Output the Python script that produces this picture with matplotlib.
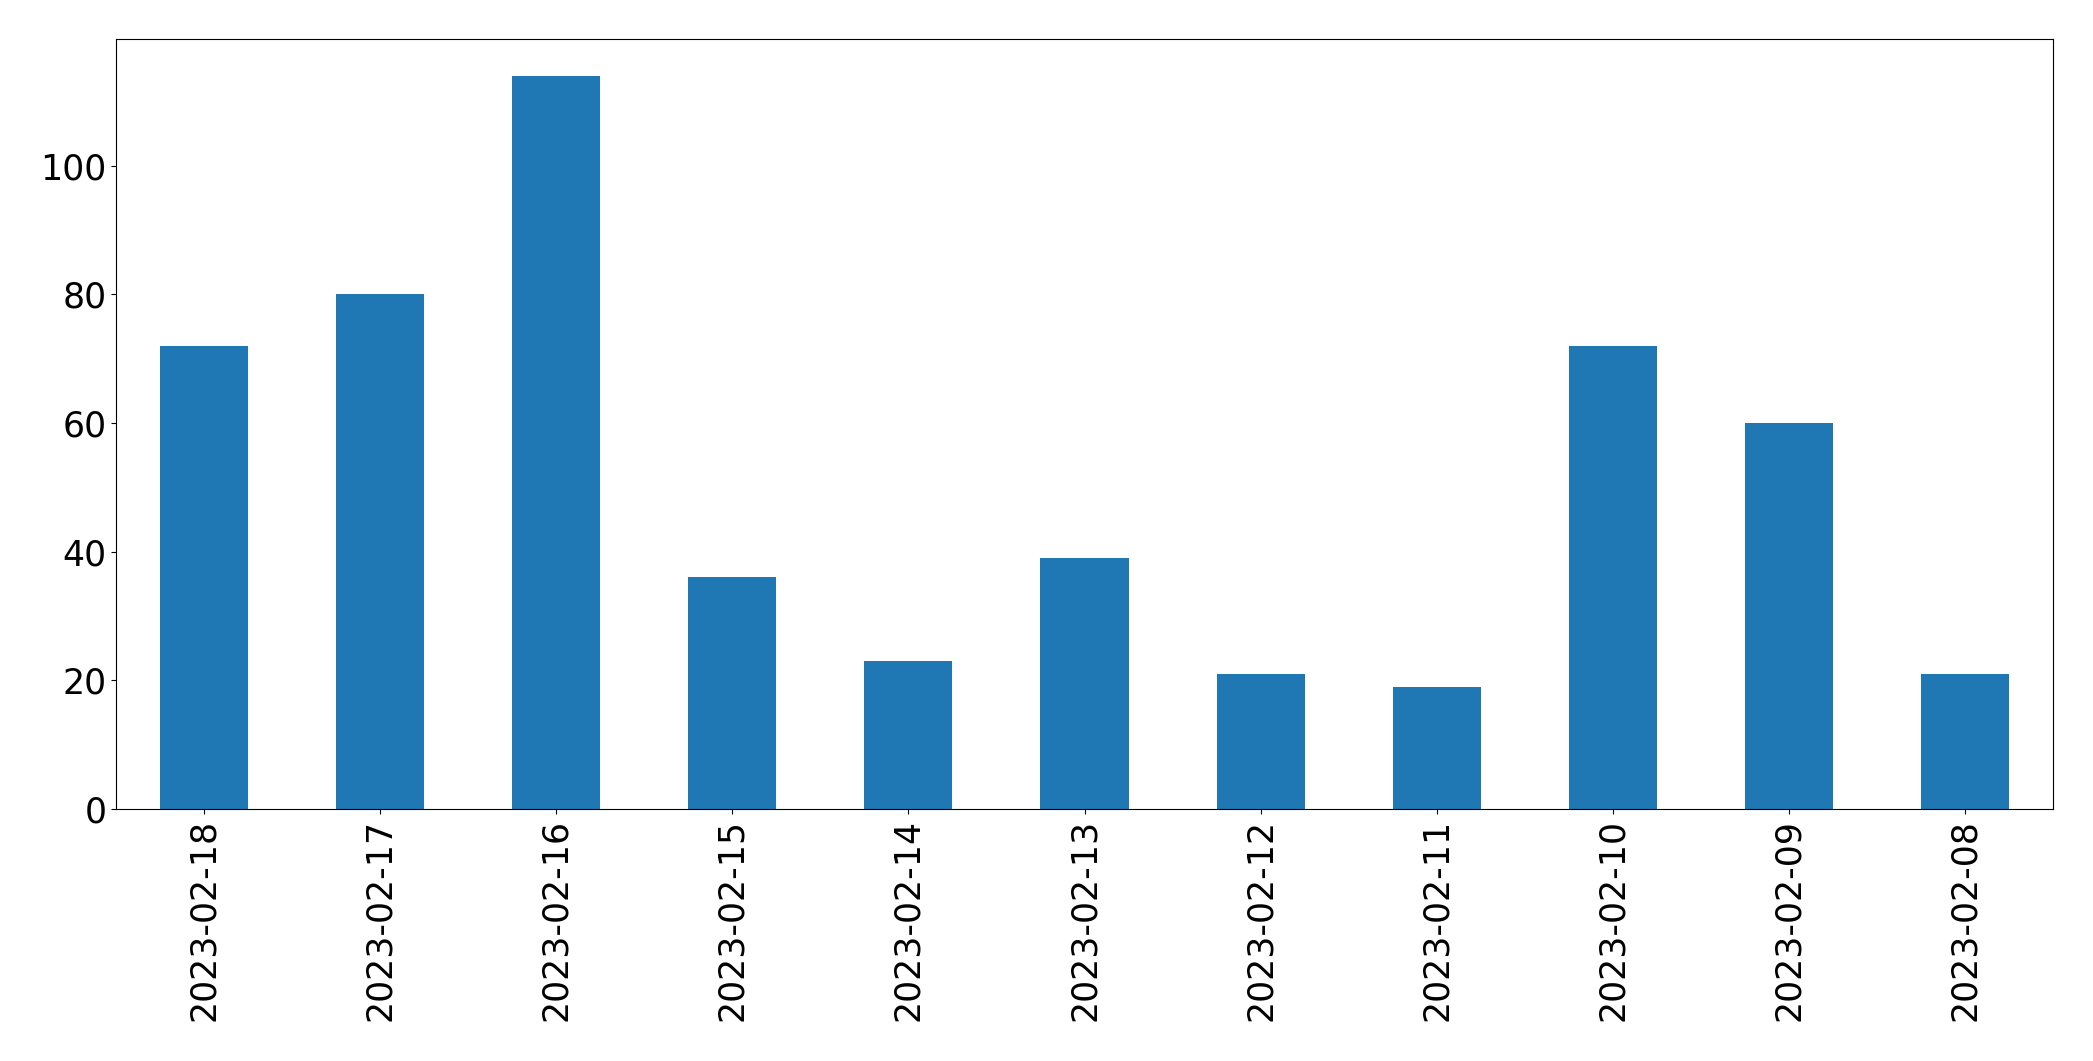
import matplotlib
matplotlib.use("Agg")
import matplotlib.pyplot as plt
import pandas as pd

dates = ["2023-02-18", "2023-02-17", "2023-02-16", "2023-02-15", "2023-02-14",
         "2023-02-13", "2023-02-12", "2023-02-11", "2023-02-10", "2023-02-09",
         "2023-02-08"]
counts = [72, 80, 114, 36, 23, 39, 21, 19, 72, 60, 21]

series = pd.Series(counts, index=dates)

fig = plt.figure(figsize=(20.93, 10.61), dpi=100)
ax = fig.add_axes([116 / 2093, 1 - 809 / 1061, (2053 - 116) / 2093, (809 - 39) / 1061])

series.plot(kind="bar", ax=ax, color="#1f77b4")

ax.tick_params(axis="both", labelsize=25)
plt.setp(ax.get_xticklabels(), rotation=90)

fig.savefig("out.png", dpi=100)
